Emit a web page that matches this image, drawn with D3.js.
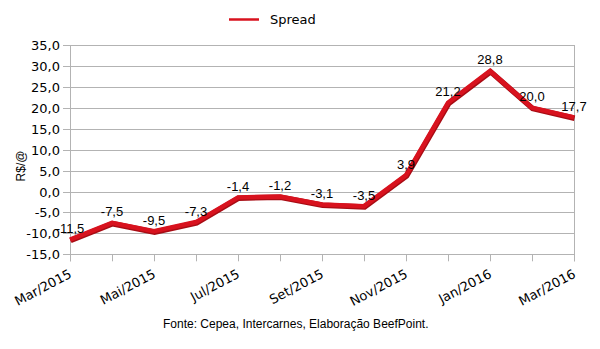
<!DOCTYPE html>
<html>
<head>
<meta charset="utf-8">
<script src="https://cdn.jsdelivr.net/npm/d3@7"></script>
<style>
  html, body { margin: 0; padding: 0; background: #fff; }
  svg { display: block; }
</style>
</head>
<body>
<svg id="chart" width="600" height="349"></svg>
<script>
const categories = ["Mar/2015","Abr/2015","Mai/2015","Jun/2015","Jul/2015","Ago/2015","Set/2015","Out/2015","Nov/2015","Dez/2015","Jan/2016","Fev/2016","Mar/2016"];
const spread = [-11.5, -7.5, -9.5, -7.3, -1.4, -1.2, -3.1, -3.5, 3.9, 21.2, 28.8, 20.0, 17.7];
const yTicks = [-15, -10, -5, 0, 5, 10, 15, 20, 25, 30, 35];
const shownLabels = ["Mar/2015","Mai/2015","Jul/2015","Set/2015","Nov/2015","Jan/2016","Mar/2016"];
const seriesName = "Spread";
const yTitle = "R$/@";
const source = "Fonte: Cepea, Intercarnes, Elaboração BeefPoint.";

(function () {
const svg = d3.select("#chart");
const pLeft = 70, pRight = 574, pTop = 45, pBottom = 254.3;
const x = d3.scalePoint().domain(categories).range([pLeft, pRight]);
const y = d3.scaleLinear().domain([-15, 35]).range([pBottom, pTop]);
const fmt = v => d3.format(".1f")(v).replace(".", ",").replace("−", "-");
const grid = "#b3b3b3";

// gridlines
svg.append("g").selectAll("line").data(yTicks).join("line")
  .attr("x1", pLeft - 7).attr("x2", pRight)
  .attr("y1", d => Math.round(y(d)) + 0.5).attr("y2", d => Math.round(y(d)) + 0.5)
  .attr("stroke", grid).attr("stroke-width", 1);

// y tick labels
svg.append("g").selectAll("text").data(yTicks).join("text")
  .attr("x", 60).attr("y", d => y(d) + 5)
  .attr("text-anchor", "end")
  .attr("font-family", "DejaVu Sans").attr("font-size", 13).attr("fill", "#000")
  .text(d => fmt(d));

// axis lines
svg.append("line").attr("x1", pLeft + 0.5).attr("x2", pLeft + 0.5).attr("y1", pTop).attr("y2", pBottom + 7)
  .attr("stroke", grid);
svg.append("line").attr("x1", pRight + 0.5).attr("x2", pRight + 0.5).attr("y1", pTop).attr("y2", pBottom + 7)
  .attr("stroke", grid);
svg.append("g").selectAll("line").data(categories).join("line")
  .attr("x1", d => Math.round(x(d)) + 0.5).attr("x2", d => Math.round(x(d)) + 0.5)
  .attr("y1", pBottom).attr("y2", pBottom + 7)
  .attr("stroke", grid);

// x labels
svg.append("g").selectAll("text").data(shownLabels).join("text")
  .attr("text-anchor", "end")
  .attr("transform", d => `translate(${x(d) + 2.5},${pBottom + 22.5}) rotate(-28)`)
  .attr("font-family", "DejaVu Sans").attr("font-size", 13).attr("fill", "#000")
  .text(d => d);

// line
const line = d3.line().x((d, i) => x(categories[i])).y(d => y(d));
svg.append("path").datum(spread)
  .attr("d", line).attr("fill", "none")
  .attr("stroke", "#a80c14").attr("stroke-width", 5.5).attr("stroke-linejoin", "miter")
  .attr("transform", "translate(0.6,0.8)");
svg.append("path").datum(spread)
  .attr("d", line).attr("fill", "none")
  .attr("stroke", "#d8121e").attr("stroke-width", 4.5).attr("stroke-linejoin", "miter");

// data labels
svg.append("g").selectAll("text").data(spread).join("text")
  .attr("x", (d, i) => x(categories[i]))
  .attr("y", d => y(d) - 6.5)
  .attr("text-anchor", "middle")
  .attr("font-family", "Liberation Sans").attr("font-size", 13).attr("fill", "#000")
  .text(d => fmt(d));

// y title
svg.append("text")
  .attr("transform", "translate(25,166) rotate(-90)")
  .attr("text-anchor", "middle")
  .attr("font-family", "Liberation Sans").attr("font-size", 12).attr("fill", "#000")
  .text(yTitle);

// legend
svg.append("line").attr("x1", 229).attr("x2", 259).attr("y1", 19.5).attr("y2", 19.5)
  .attr("stroke", "#d8121e").attr("stroke-width", 2.5);
svg.append("text").attr("x", 270).attr("y", 23.5)
  .attr("font-family", "DejaVu Sans").attr("font-size", 13).attr("fill", "#000")
  .text(seriesName);

// source
svg.append("text").attr("x", 163).attr("y", 328)
  .attr("font-family", "Liberation Sans").attr("font-size", 12).attr("fill", "#000")
  .text(source);
})();
</script>
</body>
</html>
